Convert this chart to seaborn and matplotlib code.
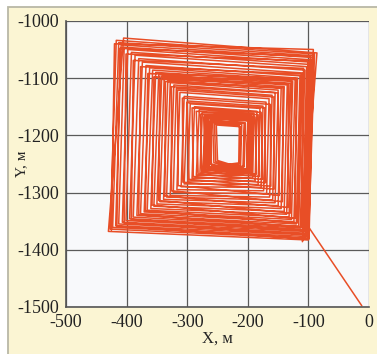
import numpy as np
import pandas as pd
import seaborn as sns
import matplotlib.pyplot as plt

# lap corners in path order: inward from the edge, tight core laps, then outward (metres)
tl_x = [-420, -411, -401, -389, -377, -365, -355, -345, -336, -326, -316, -308, -300, -292, -285, -278, -272,
        -268, -262, -270, -258, -265, -255, -272, -260, -266, -252,
        -262, -266, -270, -275, -280, -288, -295, -300, -305, -312, -318, -322, -328, -332, -338, -342,
        -347, -352, -357, -362, -368, -374, -380, -386, -392, -398, -404, -409, -413, -417, -405]
tl_y = [-1040, -1048, -1058, -1069, -1080, -1092, -1098, -1102, -1106, -1115, -1121, -1135, -1143, -1152, -1158,
        -1163, -1168,
        -1168, -1174, -1166, -1178, -1170, -1180, -1164, -1176, -1171, -1182,
        -1175, -1170, -1165, -1160, -1155, -1150, -1145, -1140, -1132, -1125, -1118, -1112, -1108, -1104,
        -1100, -1097, -1094, -1090, -1086, -1082, -1078, -1072, -1066, -1060, -1055, -1050, -1046, -1042,
        -1038, -1034, -1030]
tr_x = [-92, -97, -101, -108, -112, -120, -128, -133, -142, -150, -157, -163, -172, -178, -183, -188, -195,
        -198, -206, -194, -210, -200, -214, -192, -204, -196, -212,
        -205, -200, -197, -193, -190, -185, -180, -175, -170, -165, -160, -155, -150, -145, -140, -135,
        -130, -126, -122, -118, -114, -110, -106, -103, -100, -98, -96, -94, -92, -90, -86]
tr_y = [-1050, -1062, -1070, -1083, -1093, -1101, -1104, -1110, -1117, -1126, -1133, -1146, -1152, -1160, -1164,
        -1168, -1172,
        -1172, -1178, -1170, -1181, -1174, -1183, -1168, -1179, -1175, -1185,
        -1178, -1174, -1170, -1166, -1162, -1158, -1153, -1149, -1142, -1136, -1130, -1125, -1121, -1118,
        -1115, -1112, -1109, -1106, -1103, -1100, -1096, -1091, -1086, -1080, -1076, -1072, -1068, -1064,
        -1061, -1058, -1056]
br_x = [-99, -104, -108, -112, -118, -122, -130, -134, -143, -148, -157, -162, -171, -176, -181, -186, -193,
        -200, -208, -196, -212, -202, -215, -194, -206, -198, -213,
        -207, -202, -199, -195, -192, -188, -183, -178, -174, -169, -164, -159, -155, -150, -145, -140,
        -136, -132, -128, -124, -120, -116, -113, -110, -107, -105, -103, -102, -101, -100, -110]
br_y = [-1381, -1373, -1366, -1360, -1353, -1345, -1336, -1326, -1316, -1305, -1294, -1289, -1283, -1277, -1272,
        -1268, -1264,
        -1262, -1256, -1264, -1252, -1260, -1250, -1266, -1254, -1261, -1248,
        -1258, -1263, -1266, -1270, -1275, -1280, -1286, -1291, -1297, -1302, -1308, -1313, -1318, -1323,
        -1328, -1333, -1338, -1343, -1347, -1351, -1355, -1359, -1362, -1365, -1368, -1371, -1374, -1377,
        -1380, -1383, -1386]
bl_x = [-425, -416, -404, -392, -380, -369, -358, -347, -337, -326, -315, -307, -297, -290, -282, -276, -271,
        -266, -260, -272, -256, -267, -253, -270, -262, -264, -250,
        -264, -269, -274, -279, -285, -292, -299, -305, -310, -317, -323, -328, -334, -339, -345, -350,
        -355, -360, -366, -371, -377, -383, -389, -395, -401, -407, -413, -418, -423, -427, -430]
bl_y = [-1366, -1359, -1353, -1347, -1339, -1332, -1322, -1314, -1306, -1297, -1288, -1282, -1277, -1272, -1268,
        -1264, -1260,
        -1258, -1252, -1261, -1248, -1256, -1246, -1262, -1250, -1257, -1244,
        -1255, -1260, -1262, -1266, -1270, -1275, -1280, -1285, -1290, -1295, -1300, -1305, -1308, -1312,
        -1316, -1320, -1324, -1328, -1331, -1334, -1337, -1340, -1343, -1346, -1349, -1352, -1355, -1358,
        -1361, -1364, -1368]
# leaving the area
exit_x = [-100, -12]
exit_y = [-1360, -1498]

xs, ys = [], []
for i in range(len(tl_x)):
    xs += [bl_x[i], tl_x[i], tr_x[i], br_x[i]]
    ys += [bl_y[i], tl_y[i], tr_y[i], br_y[i]]
xs += exit_x
ys += exit_y
track = pd.DataFrame({"x": xs, "y": ys})

sns.set_style("white")
plt.rcParams["font.family"] = ["Liberation Serif", "DejaVu Serif"]
plt.rcParams["axes.unicode_minus"] = False

fig = plt.figure(figsize=(3.77, 3.54), dpi=100)
fig.patch.set_facecolor("white")
# yellow panel with a grey edge on top and left, white strip outside
fig.add_artist(plt.Rectangle((8 / 377, -0.1), 1.2, 0.1 + 347 / 354, transform=fig.transFigure,
                             facecolor="#fbf5d3", edgecolor="#b9b7a6", linewidth=1.3, zorder=-5))
ax = fig.add_axes([0.175, 0.133, 0.804, 0.808])
ax.set_facecolor("#f8f9fb")

sns.lineplot(data=track, x="x", y="y", sort=False, estimator=None,
             color="#e84e26", linewidth=1.1, ax=ax)

ax.set_xlim(-500, 0)
ax.set_ylim(-1500, -1000)
ax.set_xticks(np.arange(-500, 1, 100))
ax.set_yticks(np.arange(-1500, -999, 100))
ax.grid(True, color="#5a5a5a", linewidth=0.9)
ax.set_axisbelow(True)
for s in ["top", "right"]:
    ax.spines[s].set_visible(False)
for s in ["left", "bottom"]:
    ax.spines[s].set_color("#555555")
    ax.spines[s].set_linewidth(1.2)
ax.tick_params(axis="both", direction="out", length=4, width=1, color="#555555",
               labelsize=13, labelcolor="#222222", pad=1)
ax.set_xlabel("X, м", fontsize=12, labelpad=0)
ax.set_ylabel("Y, м", fontsize=11)
# the y label sits in the gap between the -1200 and -1300 tick labels
ax.yaxis.set_label_coords(-0.125, 0.5)

fig.savefig("out.png", dpi=100, facecolor=fig.get_facecolor())
